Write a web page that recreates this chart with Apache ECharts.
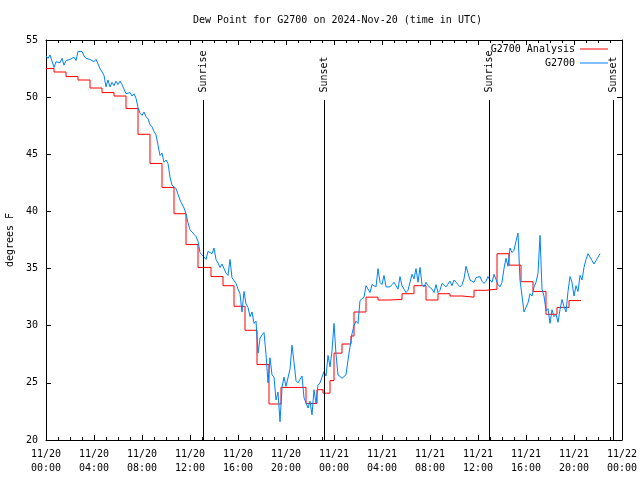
<!DOCTYPE html>
<html><head><meta charset="utf-8">
<script src="https://cdn.jsdelivr.net/npm/echarts@6/dist/echarts.min.js"></script>
<style>html,body{margin:0;padding:0;background:#fff}#c{width:640px;height:480px}</style>
</head><body><div id="c"></div>
<script>
const chartTitle = 'Dew Point for G2700 on 2024-Nov-20 (time in UTC)';
const yAxisName = 'degrees F';
const yMin = 20, yMax = 55, yStep = 5;
const xStart = '2024-11-20 00:00';
const xEnd = '2024-11-22 00:00';
const seriesNames = ['G2700 Analysis', 'G2700'];

const analysisTimes = [
  '2024-11-20 00:00','2024-11-20 00:40','2024-11-20 01:40','2024-11-20 02:40','2024-11-20 03:40',
  '2024-11-20 04:40','2024-11-20 05:40','2024-11-20 06:40','2024-11-20 07:40','2024-11-20 08:40',
  '2024-11-20 09:40','2024-11-20 10:40','2024-11-20 11:40','2024-11-20 12:40','2024-11-20 13:45',
  '2024-11-20 14:45','2024-11-20 15:40','2024-11-20 16:35','2024-11-20 17:35','2024-11-20 18:35',
  '2024-11-20 19:35','2024-11-20 21:40','2024-11-20 22:35','2024-11-20 23:05','2024-11-20 23:40',
  '2024-11-21 00:00','2024-11-21 00:40','2024-11-21 01:25','2024-11-21 01:40','2024-11-21 02:40',
  '2024-11-21 03:40','2024-11-21 04:40','2024-11-21 05:40','2024-11-21 06:40','2024-11-21 07:40',
  '2024-11-21 08:40','2024-11-21 09:40','2024-11-21 10:40','2024-11-21 11:40','2024-11-21 12:40',
  '2024-11-21 13:35','2024-11-21 14:35','2024-11-21 15:35','2024-11-21 16:35','2024-11-21 17:40',
  '2024-11-21 18:35','2024-11-21 19:35','2024-11-21 20:35'
];
const analysisValues = [
  52.5, 52.2, 51.8, 51.5, 50.8,
  50.4, 50.1, 49.0, 46.75, 44.2,
  42.1, 39.8, 37.1, 35.1, 34.3,
  33.5, 31.7, 29.6, 26.6, 23.15,
  24.6, 23.2, 24.4, 24.1, 25.2,
  27.6, 28.4, 29.1, 31.2, 32.5,
  32.25, 32.3, 32.8, 33.5, 32.25,
  32.8, 32.6, 32.5, 33.1, 33.2,
  36.3, 35.3, 33.85, 33.0, 31.0,
  31.6, 32.2, 32.2
];

// station observations every 10 minutes from 2024-11-20 00:00
const stationStart = '2024-11-20 00:00';
const stationStepMinutes = 10;
const stationValues = [
  53.6, 53.4, 53.7, 53.7, 52.6, 53.1,
  53.2, 53.0, 53.4, 52.8, 53.2, 53.3,
  53.3, 53.4, 53.5, 53.2, 54.0, 54.0,
  54.0, 53.6, 53.4, 53.3, 53.3, 53.2,
  53.1, 53.3, 52.9, 52.5, 52.4, 51.9,
  50.9, 51.5, 50.9, 51.3, 51.0, 51.4,
  51.1, 51.4, 51.1, 51.0, 50.3, 50.2,
  50.4, 50.1, 50.3, 49.9, 49.1, 48.6,
  48.4, 48.7, 48.3, 48.1, 47.6, 47.4,
  47.0, 46.7, 45.8, 44.9, 45.1, 44.3,
  44.5, 44.2, 43.0, 42.3, 42.4, 42.0,
  41.5, 41.0, 41.0, 40.3, 39.8, 39.0,
  38.4, 38.3, 38.0, 37.8, 37.4, 36.4,
  36.2, 36.1, 35.8, 36.5, 36.6, 36.3,
  36.8, 35.8, 35.5, 35.1, 35.4, 35.3,
  34.6, 34.4, 35.8, 34.2, 34.3, 33.7,
  33.2, 32.8, 31.2, 33.0, 31.9, 31.6,
  30.8, 31.2, 30.2, 30.4, 27.6, 28.9,
  29.2, 29.4, 27.5, 25.0, 27.2, 25.7,
  25.5, 23.5, 24.2, 21.6, 24.6, 25.5,
  24.7, 24.7, 26.2, 28.3, 26.8, 25.2,
  25.0, 25.3, 25.6, 23.7, 23.6, 22.8,
  23.4, 22.2, 24.4, 23.2, 24.8, 25.0,
  25.5, 26.0, 25.6, 27.4, 26.4, 27.8,
  30.2, 27.5, 25.7, 25.7, 25.4, 25.4,
  25.7, 27.0, 27.0, 29.3, 30.0, 30.4,
  30.2, 32.2, 32.3, 32.5, 33.5, 33.4,
  32.9, 33.6, 33.7, 33.4, 35.0, 33.8,
  33.6, 34.4, 33.4, 33.5, 33.4, 33.6,
  33.8, 33.5, 33.2, 34.3, 33.5, 33.2,
  32.9, 33.1, 33.8, 34.5, 34.1, 35.0,
  33.8, 35.1, 33.6, 33.4, 33.8, 33.5,
  33.6, 33.2, 32.9, 33.6, 32.9, 33.1,
  33.7, 33.8, 33.4, 33.5, 33.9, 33.5,
  34.0, 33.9, 33.6, 33.4, 33.6, 34.1,
  35.2, 34.6, 34.0, 34.1, 33.8, 34.2,
  34.1, 34.3, 33.9, 33.7, 33.9, 34.3,
  34.0, 33.8, 34.5, 34.4, 33.6, 33.4,
  33.8, 35.0, 35.9, 35.2, 36.8, 36.4,
  36.6, 37.4, 38.1, 34.0, 32.6, 31.2,
  31.6, 32.0, 32.8, 32.6, 33.4, 33.8,
  34.6, 37.9, 33.2, 32.6, 31.3, 31.5,
  30.2, 31.4, 30.8, 31.0, 30.3, 31.4,
  32.3, 31.7, 31.2, 33.0, 34.3, 33.8,
  32.6, 33.5, 33.0, 34.4, 34.0, 35.1,
  35.8, 36.3, 36.2, 35.7, 35.4, 35.7,
  36.0, 36.3
];

const sunNames = ['Sunrise', 'Sunset', 'Sunrise', 'Sunset'];
const sunTimes = ['2024-11-20 13:05', '2024-11-20 23:10', '2024-11-21 12:55', '2024-11-21 23:15'];

function utc(s) {
  const [d, h] = s.split(' ');
  const [Y, M, D] = d.split('-').map(Number);
  const [hh, mm] = h.split(':').map(Number);
  return Date.UTC(Y, M - 1, D, hh, mm);
}
const pad = n => String(n).padStart(2, '0');
function fmt(v) {
  const d = new Date(v);
  return pad(d.getUTCMonth() + 1) + '/' + pad(d.getUTCDate()) + '\n' + pad(d.getUTCHours()) + ':' + pad(d.getUTCMinutes());
}

const FONT = 'DejaVu Sans Mono';
const HOUR = 3600 * 1000;
const t0 = utc(xStart), t1 = utc(xEnd);
const st0 = utc(stationStart);

const analysisData = analysisTimes.map((s, i) => [utc(s), analysisValues[i]]);
const stationData = stationValues.map((v, i) => [st0 + i * stationStepMinutes * 60000, v]);

const lineTop = 49.75, labelStart = 50.4;
const sunMarks = [];
sunTimes.forEach((s, i) => {
  const t = utc(s);
  sunMarks.push([{ coord: [t, yMin] }, { coord: [t, lineTop] }]);
  sunMarks.push([
    { coord: [t, labelStart], lineStyle: { color: 'rgba(0,0,0,0)', width: 1 },
      label: { show: true, formatter: sunNames[i], position: 'insideStart', distance: 0,
               fontFamily: FONT, fontSize: 10, color: '#000' } },
    { coord: [t, yMax] }
  ]);
});

const axisCommon = {
  axisLine: { show: true, onZero: false, lineStyle: { color: '#000', width: 1 } },
  splitLine: { show: false }
};

const chart = echarts.init(document.getElementById('c'), null, { renderer: 'canvas' });
chart.setOption({
  animation: false,
  backgroundColor: '#fff',
  title: {
    text: chartTitle, left: 188, top: 10,
    textStyle: { fontFamily: FONT, fontSize: 10, fontWeight: 'normal', color: '#000' }
  },
  legend: [
    { data: [seriesNames[0]], right: 27, top: 39, align: 'right', icon: 'rect', itemWidth: 28, itemHeight: 1,
      textStyle: { fontFamily: FONT, fontSize: 10, color: '#000' }, selectedMode: false },
    { data: [seriesNames[1]], right: 27, top: 53, align: 'right', icon: 'rect', itemWidth: 28, itemHeight: 1,
      textStyle: { fontFamily: FONT, fontSize: 10, color: '#000' }, selectedMode: false }
  ],
  grid: { left: 46, right: 18, top: 40, bottom: 40, containLabel: false, outerBoundsMode: 'none' },
  xAxis: [
    Object.assign({
      type: 'value', min: t0, max: t1, interval: 4 * HOUR, position: 'bottom',
      axisTick: { show: true, inside: true, length: 5, lineStyle: { color: '#000' } },
      minorTick: { show: true, splitNumber: 4, length: 3, lineStyle: { color: '#000' } },
      minorSplitLine: { show: false },
      axisLabel: { formatter: fmt, fontFamily: FONT, fontSize: 10, color: '#000', margin: 7, lineHeight: 14, showMinLabel: true, showMaxLabel: true }
    }, axisCommon),
    Object.assign({
      type: 'value', min: t0, max: t1, interval: 4 * HOUR, position: 'top',
      axisTick: { show: true, inside: true, length: 5, lineStyle: { color: '#000' } },
      minorTick: { show: true, splitNumber: 4, length: 3, lineStyle: { color: '#000' } },
      minorSplitLine: { show: false },
      axisLabel: { show: false }
    }, axisCommon)
  ],
  yAxis: [
    Object.assign({
      type: 'value', min: yMin, max: yMax, interval: yStep, position: 'left',
      name: yAxisName, nameLocation: 'middle', nameRotate: 90, nameGap: 31,
      nameTextStyle: { fontFamily: FONT, fontSize: 10, color: '#000' },
      axisTick: { show: true, inside: true, length: 5, lineStyle: { color: '#000' } },
      axisLabel: { fontFamily: FONT, fontSize: 10, color: '#000', margin: 8, showMinLabel: true, showMaxLabel: true }
    }, axisCommon),
    Object.assign({
      type: 'value', min: yMin, max: yMax, interval: yStep, position: 'right',
      axisTick: { show: true, inside: true, length: 5, lineStyle: { color: '#000' } },
      axisLabel: { show: false }
    }, axisCommon)
  ],
  series: [
    {
      name: seriesNames[0], type: 'line', data: analysisData, step: 'end',
      showSymbol: false, symbol: 'none', xAxisIndex: 0, yAxisIndex: 0,
      lineStyle: { color: '#ff0000', width: 1 }, itemStyle: { color: '#ff0000' },
      markLine: {
        silent: true, symbol: ['none', 'none'], animation: false,
        lineStyle: { color: '#000', width: 1, type: 'solid' },
        label: { show: false },
        data: sunMarks
      }
    },
    {
      name: seriesNames[1], type: 'line', data: stationData,
      showSymbol: false, symbol: 'none', xAxisIndex: 0, yAxisIndex: 0,
      lineStyle: { color: '#0080ff', width: 1 }, itemStyle: { color: '#0080ff' }
    }
  ]
});
</script>
</body></html>
